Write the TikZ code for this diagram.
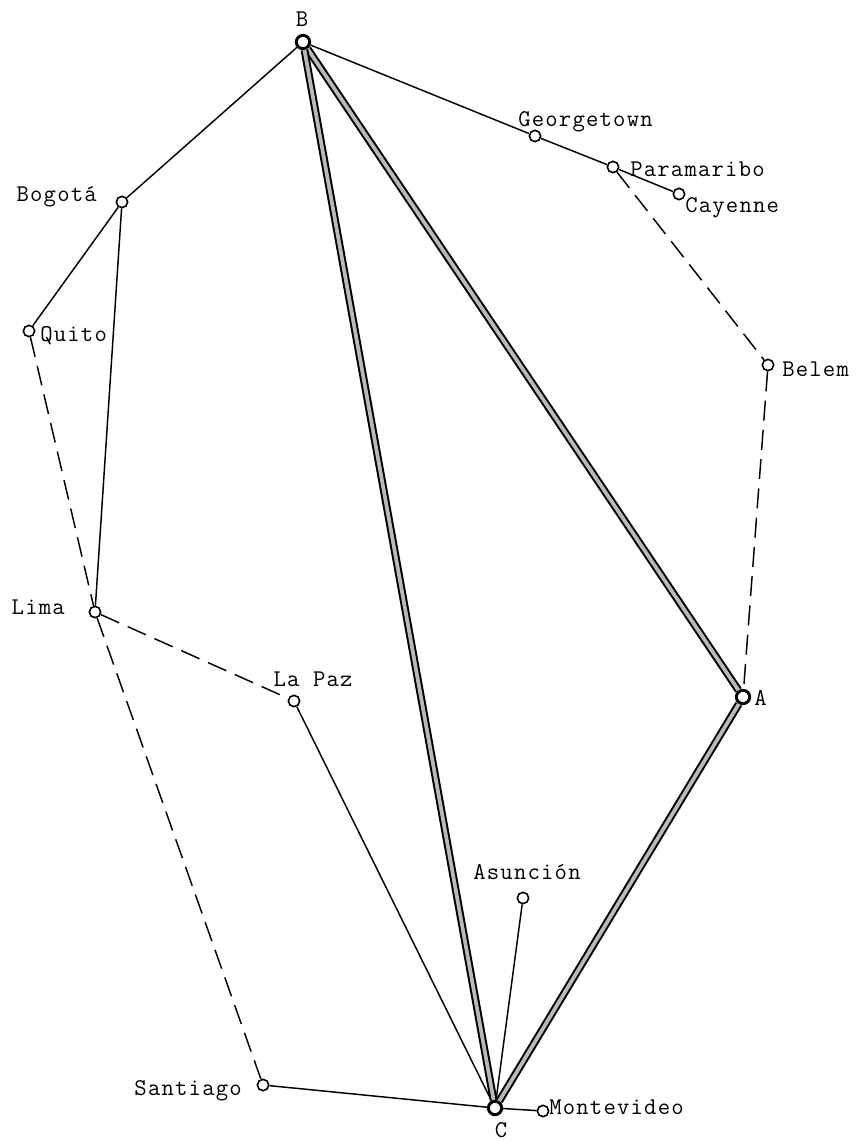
\documentclass[tikz,border=0pt]{standalone}
\usepackage{fontspec}
\setmonofont{Latin Modern Mono}[LetterSpace=5]
\begin{document}
\begin{tikzpicture}[x=0.75pt,y=-0.75pt,
  city/.style={circle,draw,fill=white,line width=1.2pt,minimum size=8.5pt,inner sep=0pt},
  hub/.style={city,line width=2.2pt,minimum size=10pt},
  lbl/.style={font=\ttfamily\fontsize{18}{20}\selectfont,inner sep=0pt,text height=1.6ex,text depth=.2ex},
  road/.style={line width=1.1pt},
  sea/.style={road,dash pattern=on 15pt off 7pt},
  trunk/.style={draw=black,double=gray!55,line width=1.5pt,double distance=2.8pt}]
  \useasboundingbox (0,0) rectangle (860,1141);

  % hubs
  \node[hub] (B) at (303,42) {};
  \node[hub] (A) at (743,697) {};
  \node[hub] (C) at (495,1108) {};

  % cities
  \node[city] (georgetown) at (535,136) {};
  \node[city] (paramaribo) at (613,167) {};
  \node[city] (cayenne) at (679,194) {};
  \node[city] (bogota) at (122,202) {};
  \node[city] (quito) at (29,331) {};
  \node[city] (belem) at (768,365) {};
  \node[city] (lima) at (95,612) {};
  \node[city] (lapaz) at (294,701) {};
  \node[city] (asuncion) at (523,898) {};
  \node[city] (santiago) at (263,1085) {};
  \node[city] (montevideo) at (543,1111) {};

  % names
  \node[lbl] (B-t) at (302,22) {B};
  \node[lbl,anchor=west] (A-t) at (754,701) {A};
  \node[lbl] (C-t) at (501,1133) {C};
  \node[lbl,anchor=west] (georgetown-t) at (518,122) {Georgetown};
  \node[lbl,anchor=west] (paramaribo-t) at (630,172) {Paramaribo};
  \node[lbl,anchor=west] (cayenne-t) at (685,208) {Cayenne};
  \node[lbl,anchor=east] (bogota-t) at (97,197) {Bogotá};
  \node[lbl,anchor=west] (quito-t) at (40,337) {Quito};
  \node[lbl,anchor=west] (belem-t) at (782,372) {Belem};
  \node[lbl,anchor=east] (lima-t) at (65,610) {Lima};
  \node[lbl] (lapaz-t) at (313,682) {La Paz};
  \node[lbl] (asuncion-t) at (527,875) {Asunción};
  \node[lbl,anchor=east] (santiago-t) at (242,1091) {Santiago};
  \node[lbl,anchor=west] (montevideo-t) at (549,1110) {Montevideo};

  % main links
  \draw[trunk] (B) -- (A);
  \draw[trunk] (B) -- (C);
  \draw[trunk] (A) -- (C);

  % solid links
  \draw[road] (B) -- (bogota);
  \draw[road] (bogota) -- (quito);
  \draw[road] (bogota) -- (lima);
  \draw[road] (B) -- (georgetown);
  \draw[road] (georgetown) -- (paramaribo);
  \draw[road] (paramaribo) -- (cayenne);
  \draw[road] (lapaz) -- (C);
  \draw[road] (asuncion) -- (C);
  \draw[road] (santiago) -- (C);
  \draw[road] (C) -- (montevideo);

  % dashed links
  \draw[sea] (quito) -- (lima);
  \draw[sea] (lima) -- (lapaz);
  \draw[sea] (lima) -- (santiago);
  \draw[sea] (paramaribo) -- (belem);
  \draw[sea] (belem) -- (A);
\end{tikzpicture}
\end{document}
